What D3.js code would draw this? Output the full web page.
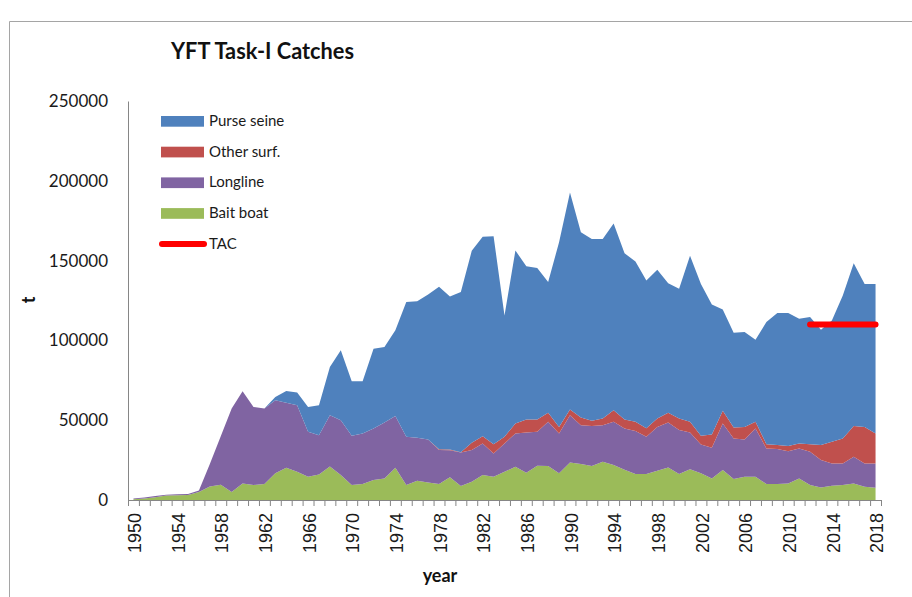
<!DOCTYPE html>
<html>
<head>
<meta charset="utf-8">
<script src="https://cdn.jsdelivr.net/npm/d3@7"></script>
<style>
  body { margin: 0; background: #fff; }
</style>
</head>
<body>
<script>
// Width and height of svg
var w = 912;
var h = 597;

// categories (one per year)
var years = [1950, 1951, 1952, 1953, 1954, 1955, 1956, 1957, 1958, 1959,
             1960, 1961, 1962, 1963, 1964, 1965, 1966, 1967, 1968, 1969,
             1970, 1971, 1972, 1973, 1974, 1975, 1976, 1977, 1978, 1979,
             1980, 1981, 1982, 1983, 1984, 1985, 1986, 1987, 1988, 1989,
             1990, 1991, 1992, 1993, 1994, 1995, 1996, 1997, 1998, 1999,
             2000, 2001, 2002, 2003, 2004, 2005, 2006, 2007, 2008, 2009,
             2010, 2011, 2012, 2013, 2014, 2015, 2016, 2017, 2018];

// catches in t
var baitBoat = [500, 1000, 1800, 2800, 3000, 3200, 5000, 8500, 9500, 5000,
                10400, 9400, 10000, 16700, 20200, 17700, 14600, 16000, 21000, 15600,
                9400, 10000, 12500, 13500, 20200, 9400, 12100, 11000, 10000, 14200,
                8800, 11500, 15600, 14600, 17700, 20800, 17100, 21500, 21300, 16700,
                23500, 22500, 21300, 24000, 21900, 19000, 16300, 16300, 18300, 20400,
                16300, 19200, 16700, 13500, 18800, 13100, 14600, 14600, 10000, 10000,
                10400, 13500, 9400, 7900, 8900, 9400, 10400, 8300, 7700];

var longline = [500, 500, 700, 500, 600, 600, 1000, 14000, 30500, 52300,
                57700, 48900, 47300, 45800, 40800, 41700, 28100, 24600, 32100, 34400,
                30800, 31700, 32300, 35000, 32500, 30200, 26900, 26900, 21300, 17000,
                20900, 19800, 19800, 14600, 17700, 20900, 25200, 21200, 27800, 25000,
                29600, 24400, 25000, 22900, 27100, 25800, 26900, 23400, 27500, 28100,
                27500, 23100, 18100, 19200, 29200, 25400, 23300, 30200, 22300, 21900,
                20200, 18800, 20800, 17100, 14000, 13500, 16700, 14600, 15200];

var otherSurf = [0, 0, 0, 0, 0, 0, 0, 0, 0, 0,
                 0, 0, 0, 0, 0, 0, 0, 0, 0, 0,
                 0, 0, 0, 0, 0, 0, 0, 0, 500, 500,
                 200, 4500, 4600, 5800, 4200, 6200, 8100, 7700, 5600, 4100,
                 3600, 4800, 3400, 4100, 7300, 5600, 5900, 5200, 5200, 6100,
                 7300, 6700, 5400, 8300, 7900, 6900, 7900, 4200, 2700, 2500,
                 3200, 3100, 4800, 9400, 13600, 15600, 19200, 22900, 18800];

var purseSeine = [0, 0, 0, 0, 0, 0, 0, 0, 0, 0,
                  0, 0, 0, 2100, 7300, 7900, 15600, 18800, 30200, 43800,
                  34200, 32700, 50000, 47300, 53600, 84400, 85600, 90900, 101800, 95800,
                  100400, 120300, 125000, 130200, 76000, 108400, 96100, 95000, 81900, 115700,
                  136000, 116000, 113900, 112500, 117000, 104200, 100300, 92700, 93200, 81200,
                  81300, 104100, 95200, 81500, 63400, 59400, 59400, 51400, 76500, 82700,
                  83300, 78100, 79600, 72300, 76000, 89600, 102000, 89600, 93700];

// TAC line
var tacYears = [2012, 2018];
var tacValue = 110000;

// axis labels
var yTicks = [0, 50000, 100000, 150000, 200000, 250000];
var xLabelYears = [1950, 1954, 1958, 1962, 1966, 1970, 1974, 1978, 1982, 1986,
                   1990, 1994, 1998, 2002, 2006, 2010, 2014, 2018];

var seriesKeys = ["Bait boat", "Longline", "Other surf.", "Purse seine"]; // bottom to top
var legendOrder = ["Purse seine", "Other surf.", "Longline", "Bait boat"];
var colors = {"Purse seine": "#4f81bd", "Other surf.": "#c0504d", "Longline": "#8064a2", "Bait boat": "#9bbb59"};

var fontMain = "Lato, 'Open Sans', sans-serif";

//Create SVG element
var svg = d3.select("body")
        .append("svg")
        .attr("width", w)
        .attr("height", h);

svg.append("rect").attr("width", w).attr("height", h).attr("fill", "#fff");

// chart frame, only its top and left edges are inside the picture
svg.append("path")
   .attr("d", "M9.5,597V21.5H912")
   .attr("fill", "none")
   .attr("stroke", "#a5a5a5")
   .attr("stroke-width", 1);

// scales: one band per year, ticks on the band edges
var x = d3.scaleLinear()
        .domain([years[0] - 0.5, years[years.length - 1] + 0.5])
        .range([128, 881]);

var y = d3.scaleLinear()
        .domain([0, 250000])
        .range([500, 101]);

// table for the stack
var rows = years.map(function(yr, i) {
    return {
        year: yr,
        "Bait boat": baitBoat[i],
        "Longline": longline[i],
        "Other surf.": otherSurf[i],
        "Purse seine": purseSeine[i]
    };
});

var layers = d3.stack().keys(seriesKeys)(rows);

var area = d3.area()
        .x(function(d) { return x(d.data.year); })
        .y0(function(d) { return y(d[0]); })
        .y1(function(d) { return y(d[1]); });

svg.selectAll("path.layer")
   .data(layers)
   .enter()
   .append("path")
   .attr("class", "layer")
   .attr("d", area)
   .attr("fill", function(d) { return colors[d.key]; });

// TAC
var tacLine = d3.line()
        .x(function(d) { return x(d); })
        .y(function() { return y(tacValue); });

svg.append("path")
   .datum(tacYears)
   .attr("d", tacLine)
   .attr("fill", "none")
   .attr("stroke", "#ff0000")
   .attr("stroke-width", 6)
   .attr("stroke-linecap", "round");

// y axis
var yAxis = svg.append("g")
        .attr("transform", "translate(128,0)")
        .call(d3.axisLeft(y).tickValues(yTicks).tickSize(0).tickPadding(20).tickFormat(d3.format("d")));
yAxis.select(".domain").attr("stroke", "#868686");
yAxis.selectAll("text")
     .attr("font-family", fontMain)
     .attr("font-size", 17)
     .attr("fill", "#1a1a1a");

// x axis: tick marks between the years
var edges = years.map(function(d) { return d - 0.5; }).concat([years[years.length - 1] + 0.5]);
var xAxis = svg.append("g")
        .attr("transform", "translate(0,500)")
        .call(d3.axisBottom(x).tickValues(edges).tickSize(6).tickSizeOuter(6).tickFormat(""));
xAxis.selectAll("path, line").attr("stroke", "#868686");

// x labels every 4 years, turned up
var xLab = svg.append("g")
        .attr("transform", "translate(0,500)")
        .call(d3.axisBottom(x).tickValues(xLabelYears).tickSize(0).tickFormat(d3.format("d")));
xLab.select(".domain").remove();
xLab.selectAll("text")
    .attr("transform", "rotate(-90)")
    .attr("text-anchor", "end")
    .attr("x", -13)
    .attr("y", 0)
    .attr("dy", "0.4em")
    .attr("font-family", "'Liberation Sans', Arial, sans-serif")
    .attr("font-size", 18)
    .attr("fill", "#1a1a1a");

// titles
svg.append("text")
   .attr("x", 171)
   .attr("y", 59)
   .attr("font-family", fontMain)
   .attr("font-weight", "bold")
   .attr("font-size", 22)
   .attr("textLength", 183)
   .attr("lengthAdjust", "spacingAndGlyphs")
   .attr("fill", "#111")
   .text("YFT Task-I Catches");

svg.append("text")
   .attr("x", 440)
   .attr("y", 582)
   .attr("text-anchor", "middle")
   .attr("font-family", fontMain)
   .attr("font-weight", "bold")
   .attr("font-size", 18)
   .attr("fill", "#111")
   .text("year");

svg.append("text")
   .attr("transform", "translate(35,300) rotate(-90)")
   .attr("text-anchor", "middle")
   .attr("font-family", fontMain)
   .attr("font-weight", "bold")
   .attr("font-size", 18)
   .attr("fill", "#111")
   .text("t");

// legend
var legend = svg.append("g").attr("transform", "translate(0,0)");
var rowGap = 30.7;

legend.selectAll("rect")
      .data(legendOrder)
      .enter()
      .append("rect")
      .attr("x", 161)
      .attr("y", function(d, i) { return 116 + i * rowGap; })
      .attr("width", 43)
      .attr("height", 10.7)
      .attr("fill", function(d) { return colors[d]; });

legend.append("line")
      .attr("x1", 162).attr("x2", 204)
      .attr("y1", 116 + 4 * rowGap + 5.3).attr("y2", 116 + 4 * rowGap + 5.3)
      .attr("stroke", "#ff0000")
      .attr("stroke-width", 6)
      .attr("stroke-linecap", "round");

legend.selectAll("text")
      .data(legendOrder.concat(["TAC"]))
      .enter()
      .append("text")
      .attr("x", 209)
      .attr("y", function(d, i) { return 126 + i * rowGap; })
      .attr("font-family", fontMain)
      .attr("font-size", 15)
      .attr("fill", "#1a1a1a")
      .text(function(d) { return d; });
</script>
</body>
</html>
